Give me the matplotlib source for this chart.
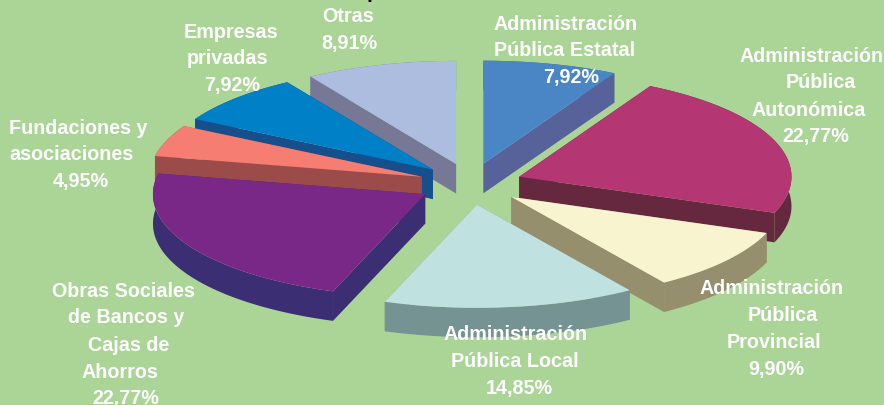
import numpy as np
import matplotlib
matplotlib.use("Agg")
import matplotlib.pyplot as plt
from matplotlib.patches import Polygon

W, H = 884, 406
plt.rcParams['font.family'] = ['Liberation Sans', 'DejaVu Sans']

names = ["Estatal", "Autonomica", "Provincial", "Local", "Obras", "Fundaciones", "Empresas", "Otras"]
values = [7.92, 22.77, 9.90, 14.85, 22.77, 4.95, 7.92, 8.91]
top_colors = ["#4A86C5", "#B43672", "#F9F4D0", "#BFE2E1", "#7A2887", "#F67D71", "#0080C6", "#ADBDDF"]
side_colors = ["#566299", "#66283F", "#968F6E", "#769394", "#3C2E72", "#9B4C4A", "#174F8D", "#767896"]
draw_order = ["Otras", "Estatal", "Empresas", "Autonomica", "Fundaciones", "Provincial", "Obras", "Local"]
background = "#ABD597"

# label lines: (text, left x px, centre y px); percent lines take their text from values
label_lines = {
    "Estatal": [("Administración", 494, 24), ("Pública Estatal", 494, 50), (None, 543, 78)],
    "Autonomica": [("Administración", 739, 57), ("Pública", 786, 83), ("Autonómica", 752, 110), (None, 782, 137)],
    "Provincial": [("Administración", 700, 289), ("Pública", 748, 316), ("Provincial", 727, 343), (None, 748, 370)],
    "Local": [("Administración", 443, 335), ("Pública Local", 451, 362), (None, 486, 389)],
    "Obras": [("Obras Sociales", 52, 292), ("de Bancos y", 68, 318), ("Cajas de", 88, 346), ("Ahorros", 82, 373), (None, 92, 398.5)],
    "Fundaciones": [("Fundaciones y", 9, 128), ("asociaciones", 9, 155), (None, 53, 182)],
    "Empresas": [("Empresas", 184, 32), ("privadas", 187, 59), (None, 204, 86)],
    "Otras": [("Otras", 322, 17), (None, 321, 43)],
}

CX, CY = 470.5, 185.0
R, TILT = 275.0, 0.375
FLATTEN = 0.01
EXPLODE, EXPLODE_TILT = 52.0, 0.40
DEPTH = 29.5

fig = plt.figure(figsize=(W / 100, H / 100), dpi=100, facecolor=background)
ax = fig.add_axes([0, 0, 1, 1])
ax.set_xlim(0, W)
ax.set_ylim(H, 0)
ax.axis("off")

edges = np.cumsum([0] + values) / sum(values) * 2 * np.pi
for name in draw_order:
    i = names.index(name)
    a0, a1 = edges[i], edges[i + 1]
    mid = (a0 + a1) / 2
    ax0 = CX + EXPLODE * np.sin(mid)
    ay0 = CY - EXPLODE * EXPLODE_TILT * np.cos(mid)
    t = np.linspace(a0, a1, 120)
    rx = ax0 + R * (np.sin(t) - FLATTEN * np.sin(t) ** 3)
    ry = ay0 - R * TILT * np.cos(t)
    apex = np.array([ax0, ay0])
    rim = np.column_stack([rx, ry])
    top = np.vstack([apex, rim])
    shift = np.array([0, DEPTH])
    # the rim band and both radial walls, each one polygon
    walls = [
        np.vstack([rim, (rim + shift)[::-1]]),
        np.array([apex, rim[0], rim[0] + shift, apex + shift]),
        np.array([apex, rim[-1], rim[-1] + shift, apex + shift]),
    ]
    for wall in walls:
        ax.add_patch(Polygon(wall, closed=True, fc=side_colors[i], ec="none", lw=0))
    ax.add_patch(Polygon(top, closed=True, fc=top_colors[i], ec="none", lw=0))

for name, lines in label_lines.items():
    v = values[names.index(name)]
    for text, x, y in lines:
        s = text if text is not None else f"{v:.2f}%".replace(".", ",")
        ax.text(x, y, s, color="white", fontweight="bold", fontsize=14.2,
                ha="left", va="center", zorder=10)

ax.text(360, -1.5, "que los conciertos", color="black", fontweight="bold", fontsize=15,
        ha="left", va="baseline", zorder=10, clip_on=False)

fig.savefig("out.png", dpi=100, facecolor=background)
